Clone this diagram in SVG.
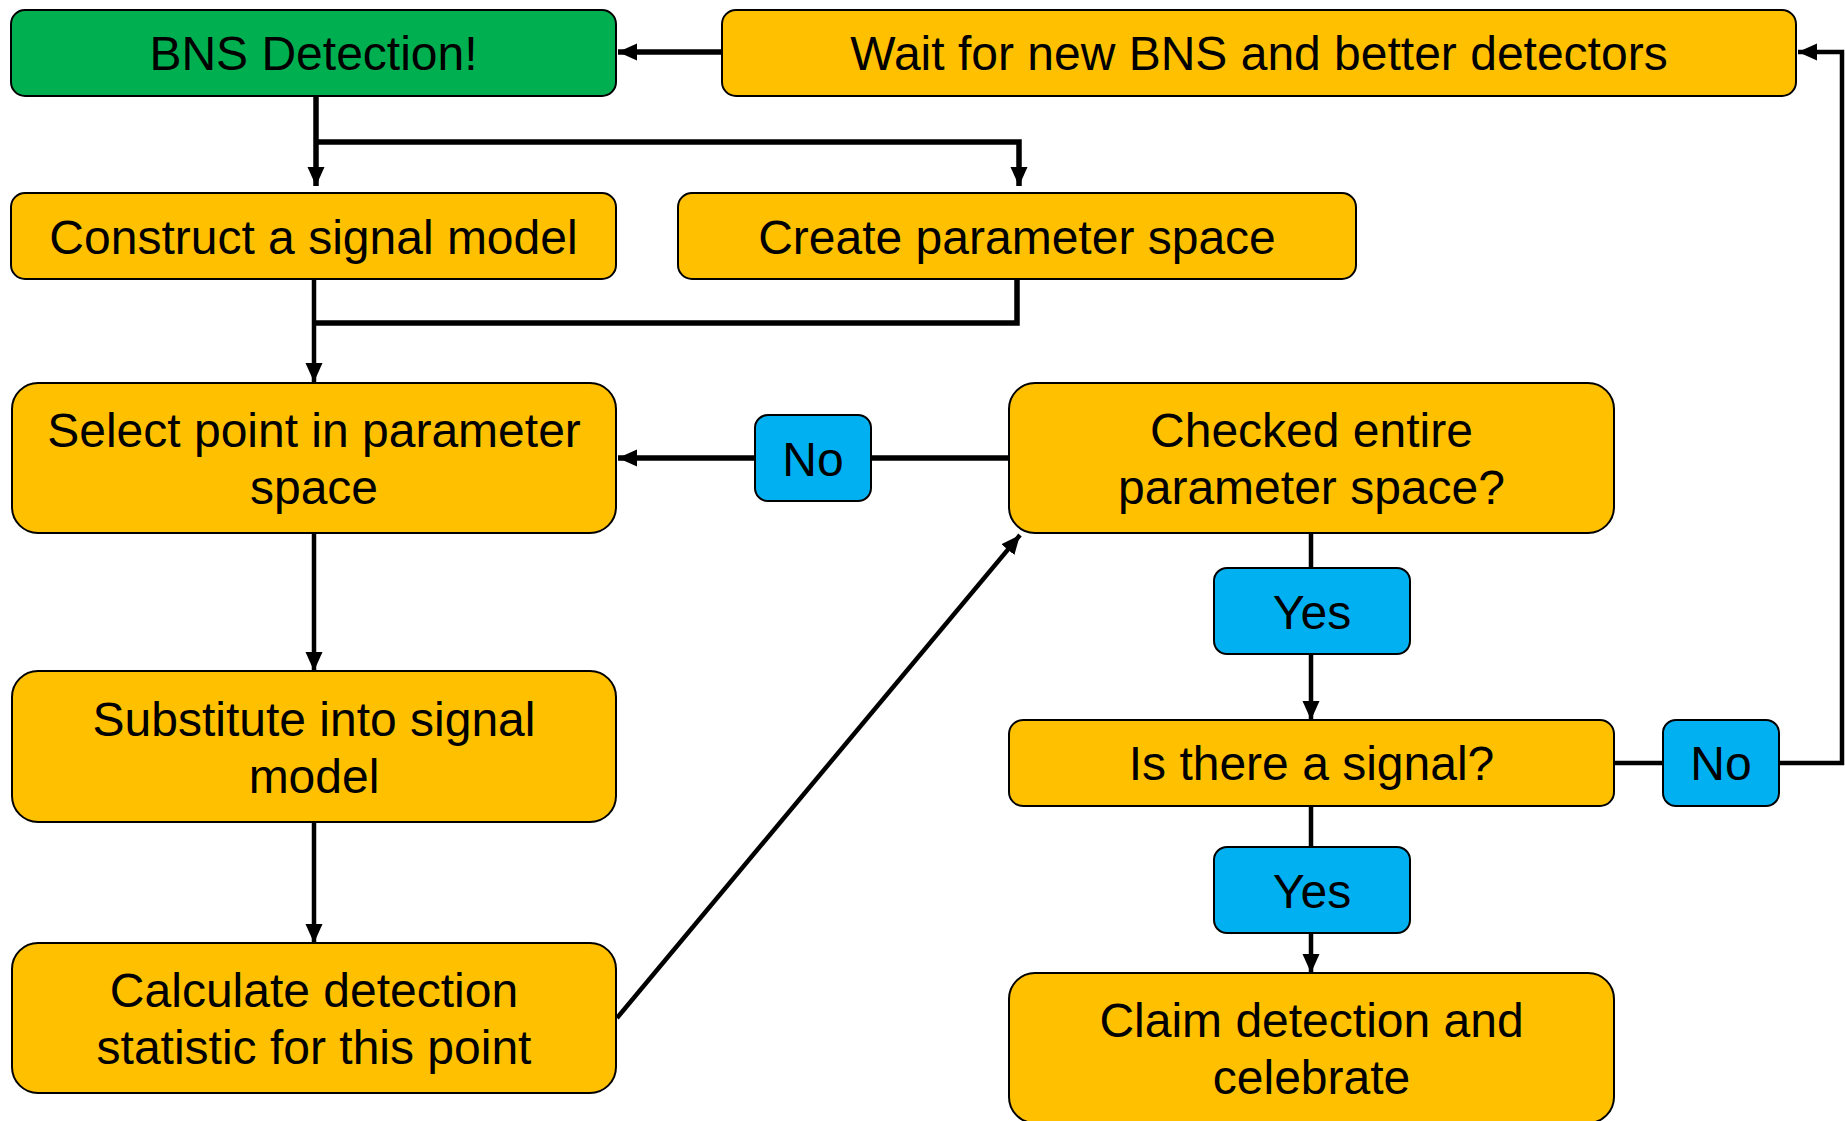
<svg xmlns="http://www.w3.org/2000/svg" width="1845" height="1121" viewBox="0 0 1845 1121">
<style>
  .box { stroke: #000; stroke-width: 2; }
  .green { fill: #00B050; }
  .orange { fill: #FFC000; }
  .blue { fill: #00B0F0; }
  .lbl { font-family: "Liberation Sans", Arial, sans-serif; font-size: 48px; fill: #000; text-anchor: middle; }
  .conn { stroke: #000; stroke-width: 4.5; fill: none; }
  .thick { stroke-width: 5.5; }
</style>
<defs>
  <marker id="arr" markerUnits="userSpaceOnUse" markerWidth="20" markerHeight="18" refX="19" refY="9" orient="auto">
    <path d="M0,0.5 L19,9 L0,17.5 z" fill="#000"/>
  </marker>
</defs>
<rect width="1845" height="1121" fill="#fff"/>
<g id="connectors">
  <line class="conn thick" x1="722" y1="52" x2="618" y2="52" marker-end="url(#arr)"/>
  <line class="conn thick" x1="316" y1="96" x2="316" y2="186" marker-end="url(#arr)"/>
  <polyline class="conn thick" points="316,142 1019,142 1019,186" marker-end="url(#arr)"/>
  <line class="conn" x1="314" y1="279" x2="314" y2="382" marker-end="url(#arr)"/>
  <polyline class="conn thick" points="1017,279 1017,323 314,323"/>
  <line class="conn thick" x1="1009" y1="458" x2="618" y2="458" marker-end="url(#arr)"/>
  <line class="conn" x1="314" y1="533" x2="314" y2="671" marker-end="url(#arr)"/>
  <line class="conn" x1="314" y1="822" x2="314" y2="943" marker-end="url(#arr)"/>
  <line class="conn" stroke-width="4" x1="617" y1="1018" x2="1020" y2="535" marker-end="url(#arr)"/>
  <line class="conn" x1="1311" y1="533" x2="1311" y2="720" marker-end="url(#arr)"/>
  <polyline class="conn" points="1614,763 1842,763 1842,52 1798,52" marker-end="url(#arr)"/>
  <line class="conn" x1="1311" y1="806" x2="1311" y2="973" marker-end="url(#arr)"/>
</g>
<g id="bns">
  <rect class="box green" x="11" y="10" width="605" height="86" rx="14"/>
  <text class="lbl" x="313.5" y="70">BNS Detection!</text>
</g>
<g id="wait">
  <rect class="box orange" x="722" y="10" width="1074" height="86" rx="14"/>
  <text class="lbl" x="1259" y="70">Wait for new BNS and better detectors</text>
</g>
<g id="construct">
  <rect class="box orange" x="11" y="193" width="605" height="86" rx="14"/>
  <text class="lbl" x="313.5" y="253.5">Construct a signal model</text>
</g>
<g id="create">
  <rect class="box orange" x="678" y="193" width="678" height="86" rx="14"/>
  <text class="lbl" x="1017" y="253.5">Create parameter space</text>
</g>
<g id="select">
  <rect class="box orange" x="12" y="383" width="604" height="150" rx="26"/>
  <text class="lbl" x="314" y="447">Select point in parameter</text>
  <text class="lbl" x="314" y="504">space</text>
</g>
<g id="no1">
  <rect class="box blue" x="755" y="415" width="116" height="86" rx="13"/>
  <text class="lbl" x="813" y="475.5">No</text>
</g>
<g id="checked">
  <rect class="box orange" x="1009" y="383" width="605" height="150" rx="26"/>
  <text class="lbl" x="1311.5" y="447">Checked entire</text>
  <text class="lbl" x="1311.5" y="504">parameter space?</text>
</g>
<g id="yes1">
  <rect class="box blue" x="1214" y="568" width="196" height="86" rx="13"/>
  <text class="lbl" x="1312" y="628.5">Yes</text>
</g>
<g id="substitute">
  <rect class="box orange" x="12" y="671" width="604" height="151" rx="26"/>
  <text class="lbl" x="314" y="735.5">Substitute into signal</text>
  <text class="lbl" x="314" y="792.5">model</text>
</g>
<g id="signal">
  <rect class="box orange" x="1009" y="720" width="605" height="86" rx="14"/>
  <text class="lbl" x="1311.5" y="780">Is there a signal?</text>
</g>
<g id="no2">
  <rect class="box blue" x="1663" y="720" width="116" height="86" rx="13"/>
  <text class="lbl" x="1721" y="780">No</text>
</g>
<g id="yes2">
  <rect class="box blue" x="1214" y="847" width="196" height="86" rx="13"/>
  <text class="lbl" x="1312" y="907.5">Yes</text>
</g>
<g id="calculate">
  <rect class="box orange" x="12" y="943" width="604" height="150" rx="26"/>
  <text class="lbl" x="314" y="1007">Calculate detection</text>
  <text class="lbl" x="314" y="1064">statistic for this point</text>
</g>
<g id="claim">
  <rect class="box orange" x="1009" y="973" width="605" height="150" rx="26"/>
  <text class="lbl" x="1311.5" y="1037">Claim detection and</text>
  <text class="lbl" x="1311.5" y="1094">celebrate</text>
</g>
</svg>
